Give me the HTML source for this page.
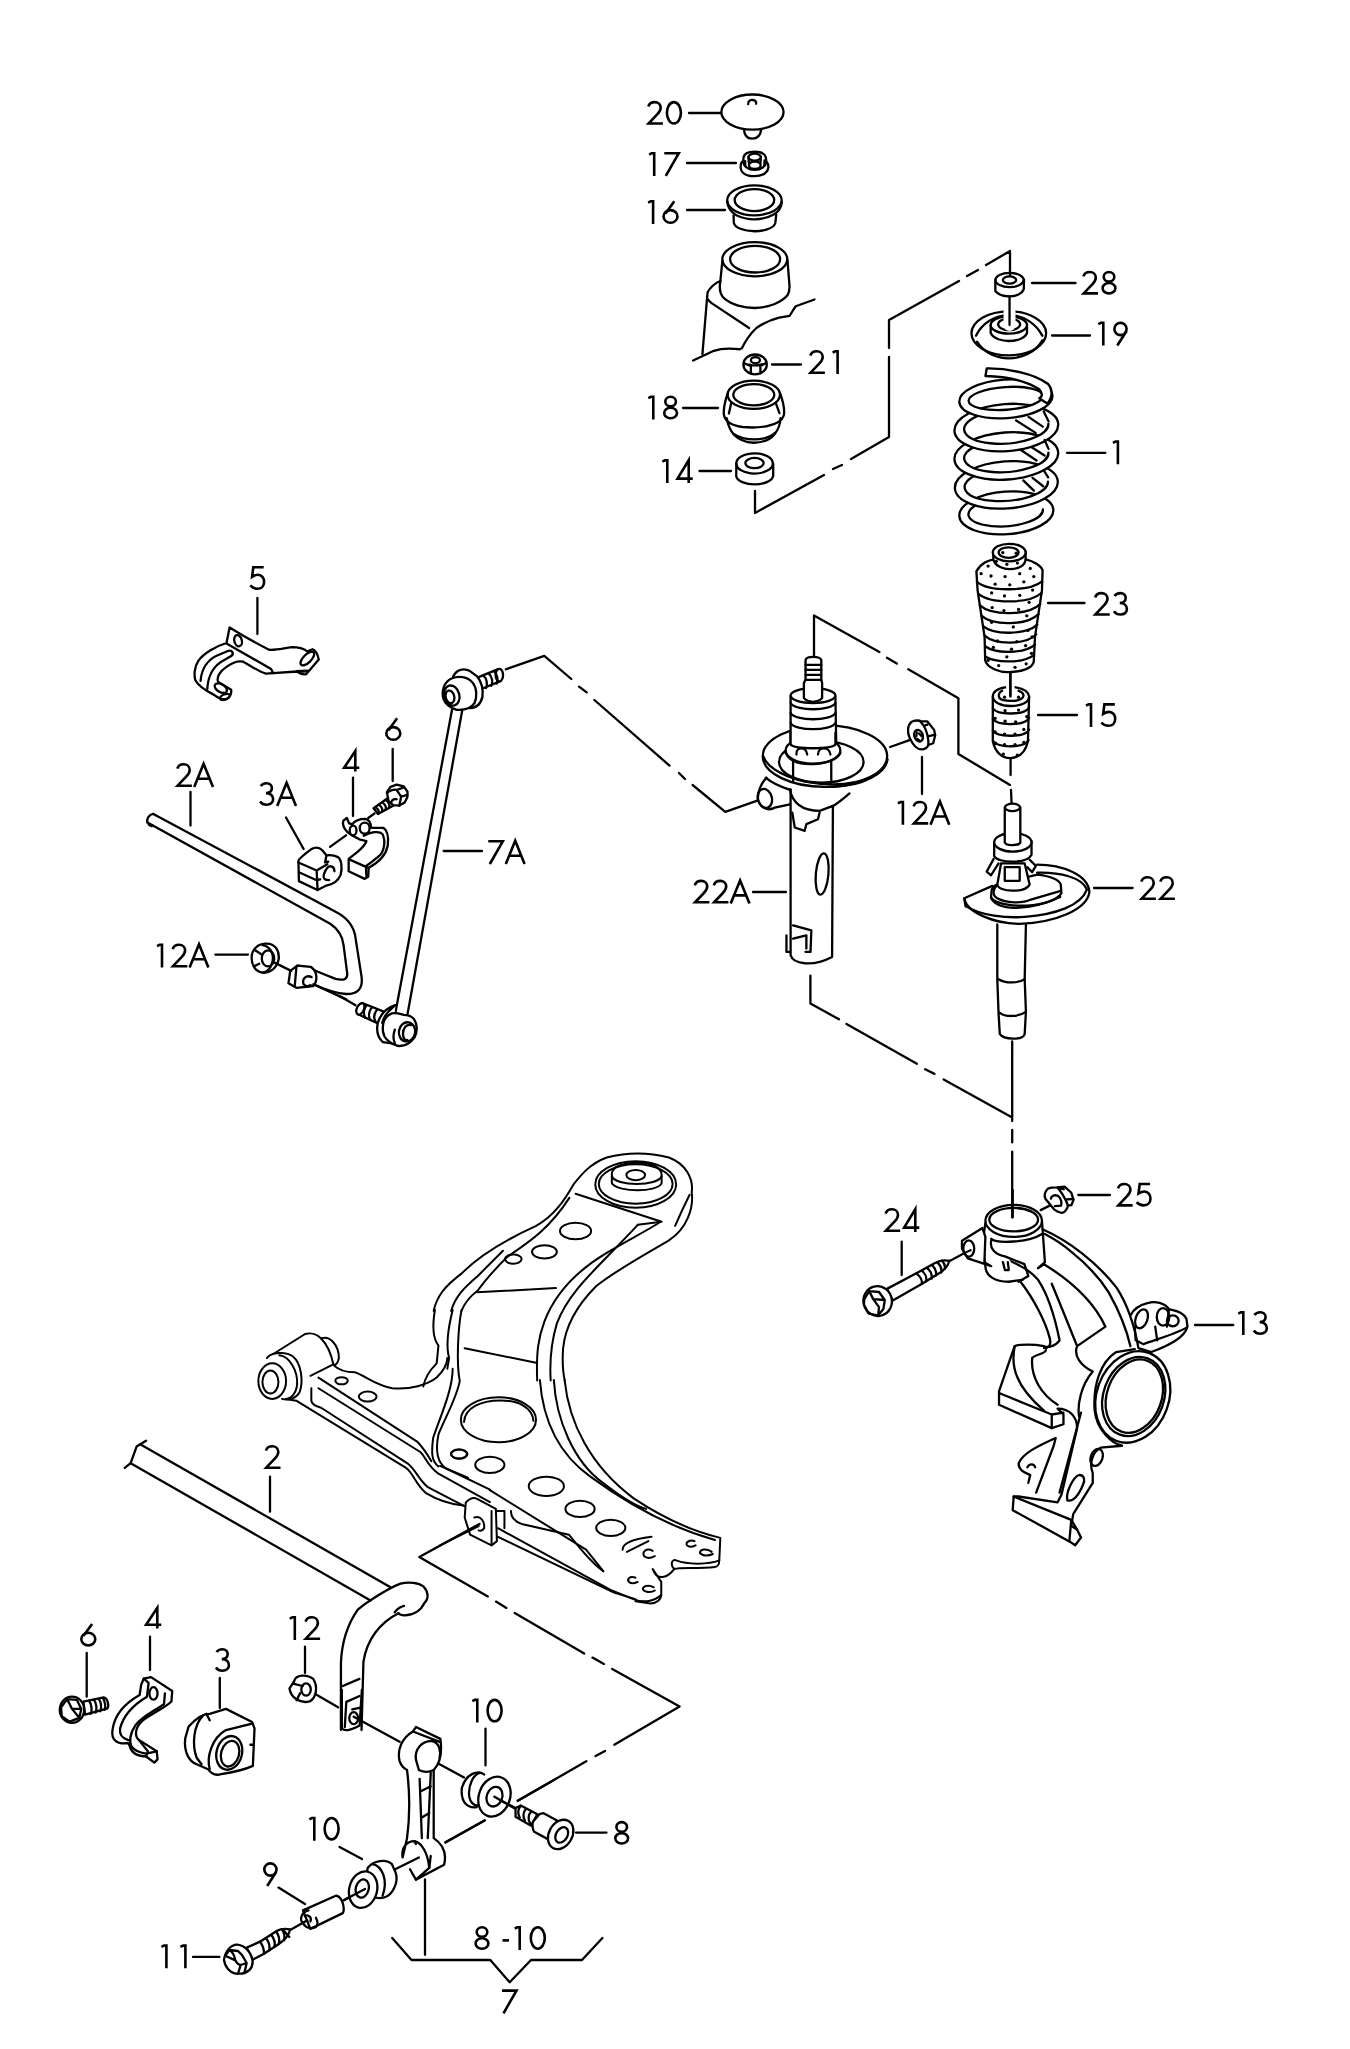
<!DOCTYPE html>
<html><head><meta charset="utf-8">
<style>
html,body{margin:0;padding:0;background:#fff;}
svg{display:block;}
text{font-family:"Liberation Sans",sans-serif;font-size:35px;fill:#000;}
.s{fill:none;stroke:#000;stroke-width:2.3;stroke-linecap:round;stroke-linejoin:round;}
.s *{vector-effect:non-scaling-stroke;}
.d{fill:none;stroke:#000;stroke-width:2.2;stroke-dasharray:80 9 12 9;}
.w{fill:#fff;}
</style></head><body>
<svg width="1350" height="2049" viewBox="0 0 1350 2049">
<!-- LABELS -->
<g fill="none" stroke="#000" stroke-width="2.6" stroke-linecap="butt" stroke-linejoin="miter">
<g transform="translate(645.40 124.8)"><path d="M2.9 -18.3 C4 -21.8 6.5 -22.7 9.3 -22.7 C12.8 -22.7 15.3 -20.3 15.3 -17 C15.3 -14.5 13.9 -12.6 12 -10.6 L3.2 -1.3 L17.5 -1.3"/></g><g transform="translate(664.40 124.8)"><ellipse cx="9.5" cy="-12" rx="7" ry="10.7"/></g>
<g transform="translate(643.00 175.9)"><path d="M6.2 -21.4 L8.8 -22.7 L11.2 -22.7 L11.2 0"/></g><g transform="translate(662.00 175.9)"><path d="M2.3 -22.7 L16.8 -22.7 L3.8 0"/></g>
<g transform="translate(641.90 224)"><path d="M6.2 -21.4 L8.8 -22.7 L11.2 -22.7 L11.2 0"/></g><g transform="translate(660.90 224)"><path d="M13.4 -22.8 L4.6 -10.6"/><ellipse cx="9.6" cy="-7.6" rx="7.0" ry="6.3"/></g>
<g transform="translate(807.40 374)"><path d="M2.9 -18.3 C4 -21.8 6.5 -22.7 9.3 -22.7 C12.8 -22.7 15.3 -20.3 15.3 -17 C15.3 -14.5 13.9 -12.6 12 -10.6 L3.2 -1.3 L17.5 -1.3"/></g><g transform="translate(826.40 374)"><path d="M6.2 -21.4 L8.8 -22.7 L11.2 -22.7 L11.2 0"/></g>
<g transform="translate(642.10 419.5)"><path d="M6.2 -21.4 L8.8 -22.7 L11.2 -22.7 L11.2 0"/></g><g transform="translate(661.10 419.5)"><ellipse cx="9.5" cy="-17.9" rx="5.3" ry="4.8"/><ellipse cx="9.5" cy="-6.5" rx="6.4" ry="5.2"/></g>
<g transform="translate(656.10 483)"><path d="M6.2 -21.4 L8.8 -22.7 L11.2 -22.7 L11.2 0"/></g><g transform="translate(675.10 483)"><path d="M13.6 0 L13.6 -22.8 L2.4 -4.4 L17.6 -4.4"/></g>
<g transform="translate(1080.50 294.7)"><path d="M2.9 -18.3 C4 -21.8 6.5 -22.7 9.3 -22.7 C12.8 -22.7 15.3 -20.3 15.3 -17 C15.3 -14.5 13.9 -12.6 12 -10.6 L3.2 -1.3 L17.5 -1.3"/></g><g transform="translate(1099.50 294.7)"><ellipse cx="9.5" cy="-17.9" rx="5.3" ry="4.8"/><ellipse cx="9.5" cy="-6.5" rx="6.4" ry="5.2"/></g>
<g transform="translate(1092.10 345.5)"><path d="M6.2 -21.4 L8.8 -22.7 L11.2 -22.7 L11.2 0"/></g><g transform="translate(1111.10 345.5)"><circle cx="9.4" cy="-16.5" r="6.1"/><path d="M15.3 -14.2 L6.2 0"/></g>
<g transform="translate(1106.70 464.2)"><path d="M6.2 -21.4 L8.8 -22.7 L11.2 -22.7 L11.2 0"/></g>
<g transform="translate(247.70 590)"><path d="M16 -22.7 L5.6 -22.7 L4.4 -13.2 C6.6 -14.6 8.6 -15.2 10.3 -15.2 C14 -15.2 16.4 -12.1 16.4 -8.1 C16.4 -3.7 13.5 -1.3 9.6 -1.3 C6.6 -1.3 4.3 -2.6 2.6 -4.6"/></g>
<g transform="translate(174.40 787)"><path d="M2.9 -18.3 C4 -21.8 6.5 -22.7 9.3 -22.7 C12.8 -22.7 15.3 -20.3 15.3 -17 C15.3 -14.5 13.9 -12.6 12 -10.6 L3.2 -1.3 L17.5 -1.3"/></g><g transform="translate(192.90 787)"><path d="M1.3 0 L10.7 -23.2 L20.1 0 M4.9 -8.2 L16.5 -8.2"/></g>
<g transform="translate(257.40 806)"><path d="M3.4 -19.8 C4.8 -22.2 7 -22.7 9.3 -22.7 C12.4 -22.7 14.5 -20.8 14.5 -17.9 C14.5 -15 12.2 -12.9 8.6 -12.9 C12.8 -12.9 15.7 -10.3 15.7 -6.7 C15.7 -3.2 13 -1.3 9.3 -1.3 C6.4 -1.3 4.2 -2.5 2.7 -4.6"/></g><g transform="translate(275.90 806)"><path d="M1.3 0 L10.7 -23.2 L20.1 0 M4.9 -8.2 L16.5 -8.2"/></g>
<g transform="translate(341.70 771.6)"><path d="M13.6 0 L13.6 -20.6 L2.4 -3.8 L17.6 -3.8"/></g>
<g transform="translate(383.70 741)"><path d="M13.4 -22.8 L4.6 -10.6"/><ellipse cx="9.6" cy="-7.6" rx="7.0" ry="6.3"/></g>
<g transform="translate(486.00 864)"><path d="M2.3 -22.7 L16.8 -22.7 L3.8 0"/></g><g transform="translate(504.50 864)"><path d="M1.3 0 L10.7 -23.2 L20.1 0 M4.9 -8.2 L16.5 -8.2"/></g>
<g transform="translate(150.80 967.5)"><path d="M6.2 -21.4 L8.8 -22.7 L11.2 -22.7 L11.2 0"/></g><g transform="translate(169.80 967.5)"><path d="M2.9 -18.3 C4 -21.8 6.5 -22.7 9.3 -22.7 C12.8 -22.7 15.3 -20.3 15.3 -17 C15.3 -14.5 13.9 -12.6 12 -10.6 L3.2 -1.3 L17.5 -1.3"/></g><g transform="translate(188.30 967.5)"><path d="M1.3 0 L10.7 -23.2 L20.1 0 M4.9 -8.2 L16.5 -8.2"/></g>
<g transform="translate(1092.20 615.8)"><path d="M2.9 -18.3 C4 -21.8 6.5 -22.7 9.3 -22.7 C12.8 -22.7 15.3 -20.3 15.3 -17 C15.3 -14.5 13.9 -12.6 12 -10.6 L3.2 -1.3 L17.5 -1.3"/></g><g transform="translate(1111.20 615.8)"><path d="M3.4 -19.8 C4.8 -22.2 7 -22.7 9.3 -22.7 C12.4 -22.7 14.5 -20.8 14.5 -17.9 C14.5 -15 12.2 -12.9 8.6 -12.9 C12.8 -12.9 15.7 -10.3 15.7 -6.7 C15.7 -3.2 13 -1.3 9.3 -1.3 C6.4 -1.3 4.2 -2.5 2.7 -4.6"/></g>
<g transform="translate(1079.80 727.1)"><path d="M6.2 -21.4 L8.8 -22.7 L11.2 -22.7 L11.2 0"/></g><g transform="translate(1098.80 727.1)"><path d="M16 -22.7 L5.6 -22.7 L4.4 -13.2 C6.6 -14.6 8.6 -15.2 10.3 -15.2 C14 -15.2 16.4 -12.1 16.4 -8.1 C16.4 -3.7 13.5 -1.3 9.6 -1.3 C6.6 -1.3 4.3 -2.6 2.6 -4.6"/></g>
<g transform="translate(1138.40 900)"><path d="M2.9 -18.3 C4 -21.8 6.5 -22.7 9.3 -22.7 C12.8 -22.7 15.3 -20.3 15.3 -17 C15.3 -14.5 13.9 -12.6 12 -10.6 L3.2 -1.3 L17.5 -1.3"/></g><g transform="translate(1157.40 900)"><path d="M2.9 -18.3 C4 -21.8 6.5 -22.7 9.3 -22.7 C12.8 -22.7 15.3 -20.3 15.3 -17 C15.3 -14.5 13.9 -12.6 12 -10.6 L3.2 -1.3 L17.5 -1.3"/></g>
<g transform="translate(691.90 903.6)"><path d="M2.9 -18.3 C4 -21.8 6.5 -22.7 9.3 -22.7 C12.8 -22.7 15.3 -20.3 15.3 -17 C15.3 -14.5 13.9 -12.6 12 -10.6 L3.2 -1.3 L17.5 -1.3"/></g><g transform="translate(710.90 903.6)"><path d="M2.9 -18.3 C4 -21.8 6.5 -22.7 9.3 -22.7 C12.8 -22.7 15.3 -20.3 15.3 -17 C15.3 -14.5 13.9 -12.6 12 -10.6 L3.2 -1.3 L17.5 -1.3"/></g><g transform="translate(729.40 903.6)"><path d="M1.3 0 L10.7 -23.2 L20.1 0 M4.9 -8.2 L16.5 -8.2"/></g>
<g transform="translate(891.70 824.7)"><path d="M6.2 -21.4 L8.8 -22.7 L11.2 -22.7 L11.2 0"/></g><g transform="translate(910.70 824.7)"><path d="M2.9 -18.3 C4 -21.8 6.5 -22.7 9.3 -22.7 C12.8 -22.7 15.3 -20.3 15.3 -17 C15.3 -14.5 13.9 -12.6 12 -10.6 L3.2 -1.3 L17.5 -1.3"/></g><g transform="translate(929.20 824.7)"><path d="M1.3 0 L10.7 -23.2 L20.1 0 M4.9 -8.2 L16.5 -8.2"/></g>
<g transform="translate(1115.10 1206.7)"><path d="M2.9 -18.3 C4 -21.8 6.5 -22.7 9.3 -22.7 C12.8 -22.7 15.3 -20.3 15.3 -17 C15.3 -14.5 13.9 -12.6 12 -10.6 L3.2 -1.3 L17.5 -1.3"/></g><g transform="translate(1134.10 1206.7)"><path d="M16 -22.7 L5.6 -22.7 L4.4 -13.2 C6.6 -14.6 8.6 -15.2 10.3 -15.2 C14 -15.2 16.4 -12.1 16.4 -8.1 C16.4 -3.7 13.5 -1.3 9.6 -1.3 C6.6 -1.3 4.3 -2.6 2.6 -4.6"/></g>
<g transform="translate(882.70 1232)"><path d="M2.9 -18.3 C4 -21.8 6.5 -22.7 9.3 -22.7 C12.8 -22.7 15.3 -20.3 15.3 -17 C15.3 -14.5 13.9 -12.6 12 -10.6 L3.2 -1.3 L17.5 -1.3"/></g><g transform="translate(901.70 1232)"><path d="M13.6 0 L13.6 -22.8 L2.4 -4.4 L17.6 -4.4"/></g>
<g transform="translate(1232.10 1335)"><path d="M6.2 -21.4 L8.8 -22.7 L11.2 -22.7 L11.2 0"/></g><g transform="translate(1251.10 1335)"><path d="M3.4 -19.8 C4.8 -22.2 7 -22.7 9.3 -22.7 C12.4 -22.7 14.5 -20.8 14.5 -17.9 C14.5 -15 12.2 -12.9 8.6 -12.9 C12.8 -12.9 15.7 -10.3 15.7 -6.7 C15.7 -3.2 13 -1.3 9.3 -1.3 C6.4 -1.3 4.2 -2.5 2.7 -4.6"/></g>
<g transform="translate(263.00 1469)"><path d="M2.9 -18.3 C4 -21.8 6.5 -22.7 9.3 -22.7 C12.8 -22.7 15.3 -20.3 15.3 -17 C15.3 -14.5 13.9 -12.6 12 -10.6 L3.2 -1.3 L17.5 -1.3"/></g>
<g transform="translate(78.70 1646.7)"><path d="M13.4 -22.8 L4.6 -10.6"/><ellipse cx="9.6" cy="-7.6" rx="7.0" ry="6.3"/></g>
<g transform="translate(143.70 1628.5)"><path d="M13.6 0 L13.6 -20.6 L2.4 -3.8 L17.6 -3.8"/></g>
<g transform="translate(213.20 1672)"><path d="M3.4 -19.8 C4.8 -22.2 7 -22.7 9.3 -22.7 C12.4 -22.7 14.5 -20.8 14.5 -17.9 C14.5 -15 12.2 -12.9 8.6 -12.9 C12.8 -12.9 15.7 -10.3 15.7 -6.7 C15.7 -3.2 13 -1.3 9.3 -1.3 C6.4 -1.3 4.2 -2.5 2.7 -4.6"/></g>
<g transform="translate(283.60 1640)"><path d="M6.2 -21.4 L8.8 -22.7 L11.2 -22.7 L11.2 0"/></g><g transform="translate(302.60 1640)"><path d="M2.9 -18.3 C4 -21.8 6.5 -22.7 9.3 -22.7 C12.8 -22.7 15.3 -20.3 15.3 -17 C15.3 -14.5 13.9 -12.6 12 -10.6 L3.2 -1.3 L17.5 -1.3"/></g>
<g transform="translate(466.10 1722.6)"><path d="M6.2 -21.4 L8.8 -22.7 L11.2 -22.7 L11.2 0"/></g><g transform="translate(485.10 1722.6)"><ellipse cx="9.5" cy="-12" rx="7" ry="10.7"/></g>
<g transform="translate(612.20 1844.8)"><ellipse cx="9.5" cy="-17.9" rx="5.3" ry="4.8"/><ellipse cx="9.5" cy="-6.5" rx="6.4" ry="5.2"/></g>
<g transform="translate(303.10 1840.7)"><path d="M6.2 -21.4 L8.8 -22.7 L11.2 -22.7 L11.2 0"/></g><g transform="translate(322.10 1840.7)"><ellipse cx="9.5" cy="-12" rx="7" ry="10.7"/></g>
<g transform="translate(261.00 1886)"><circle cx="9.4" cy="-16.5" r="6.1"/><path d="M15.3 -14.2 L6.2 0"/></g>
<g transform="translate(155.20 1968.3)"><path d="M6.2 -21.4 L8.8 -22.7 L11.2 -22.7 L11.2 0"/></g><g transform="translate(174.20 1968.3)"><path d="M6.2 -21.4 L8.8 -22.7 L11.2 -22.7 L11.2 0"/></g>
<g transform="translate(499.70 2013.3)"><path d="M2.3 -22.7 L16.8 -22.7 L3.8 0"/></g>
<g transform="translate(472.50 1950)"><ellipse cx="9.5" cy="-17.9" rx="5.3" ry="4.8"/><ellipse cx="9.5" cy="-6.5" rx="6.4" ry="5.2"/></g><g transform="translate(502.50 1950)"><path d="M0 -9.6 L6.5 -9.6"/></g><g transform="translate(508.50 1950)"><path d="M6.2 -21.4 L8.8 -22.7 L11.2 -22.7 L11.2 0"/></g><g transform="translate(528.30 1950)"><ellipse cx="9.5" cy="-12" rx="7" ry="10.7"/></g>
</g>
<!-- LEADERS -->
<g class="s">
<path d="M689 113H721M687 163H736M687 210H725M772 364.5H801M683 408H718M699.5 471H731"/>
<path d="M1032 283H1075.5M1052 335.5H1090M1067 452.8H1105.4"/>
<path d="M257.4 598V634M190.5 792V825.5M286 817.5L303.6 849M353 777.7V816M392.7 749V781M443.7 851H482M215.3 954.6H248"/>
<path d="M1048 603H1084.5M1038 715H1077M1094 888H1132.6M753 892H786M922 757V794"/>
<path d="M1078.3 1195H1110M901.7 1241.7V1275M1195 1325H1233.3"/>
<path d="M270 1476.7V1511.7M86.7 1653V1696.7M150 1636.7V1670M219.8 1678V1708M305 1646.7V1673"/>
<path d="M485.5 1728.7V1765.4M576 1832.6H606.5M339.6 1846.9L362 1859M278.5 1887.6L305 1904M193 1956.9H219.4"/>
<path d="M392.2 1938L411.5 1960H490.3L509.7 1982.3L531 1960H582L602.4 1938M425 1879.4V1954.8"/>
</g>

<!-- PARTS TOP: 20,17,16 -->
<g class="s" transform="translate(710,85) scale(0.07321)">
<ellipse cx="580" cy="370" rx="425" ry="240"/>
<path d="M465 612 C470 690 500 730 575 733 C650 730 690 690 698 612"/>
<path d="M522 262 C515 215 560 200 585 205 C620 210 635 230 630 255"/>
<path d="M607 1245 C480 1245 420 1190 418 1120 C418 1075 435 1050 455 1040 M760 1040 C785 1055 798 1080 798 1120 C795 1190 730 1245 607 1245"/>
<path d="M455 1040 L458 985 C470 935 530 912 610 912 C690 912 745 935 762 985 L770 1050 C760 1110 700 1160 610 1160 C520 1160 465 1110 455 1060 Z"/>
<ellipse cx="610" cy="985" rx="85" ry="48"/>
<ellipse cx="612" cy="1095" rx="80" ry="50"/>
<path d="M480 1040 L482 1110 M745 1030 L742 1105 M525 985 L530 1060 M695 985 L690 1060"/>
<ellipse cx="607" cy="1575" rx="372" ry="205"/>
<ellipse cx="607" cy="1572" rx="270" ry="150"/>
<path d="M235 1590 C240 1660 280 1730 360 1780 C440 1820 520 1835 607 1835 C700 1835 790 1815 870 1770 C940 1730 975 1670 982 1600"/>
<path d="M322 1780 L325 1880 C340 1950 460 1995 610 1998 C760 1995 880 1950 893 1880 L905 1770"/>
</g>

<!-- MOUNT -->
<g class="s" transform="translate(690,230) scale(0.1037)">
<ellipse cx="625" cy="282" rx="313" ry="165"/>
<ellipse cx="628" cy="282" rx="241" ry="128"/>
<path d="M312 300 L292 500 C282 560 285 620 330 660 C400 720 520 752 625 752 C760 750 880 700 940 630 C960 600 962 560 958 520 L940 290"/>
<path d="M292 492 C240 510 190 560 170 600 L165 650 L120 1195 M30 1258 L230 1165 C300 1140 400 1140 480 1150 L500 1140 C530 1080 560 1020 640 945 C720 890 800 860 860 845 L960 828 C980 800 1000 760 1020 735 L1200 670"/>
<path d="M170 665 C180 685 200 700 230 720 L570 945"/>
</g>
<!-- 21, 18, 14 -->
<g class="s" transform="translate(715,345) scale(0.07321)">
<ellipse cx="548" cy="265" rx="160" ry="135"/>
<ellipse cx="552" cy="208" rx="62" ry="42"/>
<path d="M470 265 C500 285 600 285 640 262 M490 290 L490 385 M620 290 L620 385 M410 255 L470 280 M690 250 L640 275"/>
<ellipse cx="530" cy="680" rx="358" ry="193"/>
<ellipse cx="530" cy="680" rx="280" ry="145"/>
<path d="M172 665 C140 760 115 860 120 940 C130 1040 230 1100 380 1120 C460 1128 600 1128 700 1110 C850 1080 945 1020 945 920 C945 840 920 740 890 660"/>
<path d="M160 1000 C175 1080 200 1160 260 1225 C320 1290 430 1330 530 1335 C650 1330 760 1290 815 1215 C870 1150 890 1080 895 1000"/>
<path d="M255 1215 C320 1260 430 1290 540 1290 C650 1290 750 1260 820 1200"/>
<path d="M190 935 L222 790 M880 930 L830 790"/>
<ellipse cx="540" cy="1618" rx="250" ry="138"/>
<ellipse cx="540" cy="1612" rx="125" ry="70"/>
<path d="M292 1625 L290 1790 C300 1860 420 1905 540 1905 C660 1905 780 1860 795 1790 L795 1625"/>
</g>
<!-- SPRING 1 -->
<g class="s" transform="translate(945,360) scale(0.08889)">
<path fill="#fff" stroke="none" fill-rule="evenodd" transform="rotate(-4 690 1720)" d="M160 1720 a530 240 0 1 0 1060 0 a530 240 0 1 0 -1060 0 Z M263 1710 a420 160 0 1 0 840 0 a420 160 0 1 0 -840 0 Z"/><ellipse transform="rotate(-4 690 1720)" cx="690" cy="1720" rx="530" ry="240"/><path transform="rotate(-4 690 1720)" d="M402.0 1591.1 A420 160 0 1 0 1103 1710"/>
<path fill="#fff" stroke="none" fill-rule="evenodd" transform="rotate(-4 690 1405)" d="M110 1405 a580 265 0 1 0 1160 0 a580 265 0 1 0 -1160 0 Z M220 1400 a470 185 0 1 0 940 0 a470 185 0 1 0 -940 0 Z"/><ellipse transform="rotate(-4 690 1405)" cx="690" cy="1405" rx="580" ry="265"/><path transform="rotate(-4 690 1405)" d="M375.5 1262.5 A470 185 0 1 0 1160 1400"/>
<path fill="#fff" stroke="none" fill-rule="evenodd" transform="rotate(-4 690 1080)" d="M105 1080 a585 265 0 1 0 1170 0 a585 265 0 1 0 -1170 0 Z M215 1075 a475 185 0 1 0 950 0 a475 185 0 1 0 -950 0 Z"/><ellipse transform="rotate(-4 690 1080)" cx="690" cy="1080" rx="585" ry="265"/><path transform="rotate(-4 690 1080)" d="M372.2 937.5 A475 185 0 1 0 1165 1075"/>
<path fill="#fff" stroke="none" fill-rule="evenodd" transform="rotate(-4 690 760)" d="M105 760 a585 265 0 1 0 1170 0 a585 265 0 1 0 -1170 0 Z M215 750 a475 190 0 1 0 950 0 a475 190 0 1 0 -950 0 Z"/><ellipse transform="rotate(-4 690 760)" cx="690" cy="760" rx="585" ry="265"/><path transform="rotate(-4 690 760)" d="M372.2 608.8 A475 190 0 1 0 1165 750"/>
<path fill="#fff" stroke="none" fill-rule="evenodd" transform="rotate(-4 685 437)" d="M160 437 a525 217 0 1 0 1050 0 a525 217 0 1 0 -1050 0 Z M265 432 a420 128 0 1 0 840 0 a420 128 0 1 0 -840 0 Z"/><ellipse transform="rotate(-4 685 437)" cx="685" cy="437" rx="525" ry="217"/><ellipse transform="rotate(-4 685 437)" cx="685" cy="432" rx="420" ry="128"/>
<path d="M800 680L1020 820M940 640L1100 750M1110 580L1165 690M850 1010L1030 1130M980 985L1120 1075M1120 900L1165 1000M880 1355L1000 1470M985 1325L1105 1420M1110 1240L1160 1320"/>
<path fill="#fff" d="M470 95 L455 180 C650 185 900 225 1060 330 C1100 370 1100 410 1060 430 L1150 490 C1210 420 1215 330 1160 270 C1000 150 700 92 470 95 Z"/>
</g>
<!-- 28, 19 -->
<g class="s" transform="translate(965,245) scale(0.06667)">
<path d="M455 525 L455 690 C500 750 600 770 668 770 C750 770 850 740 882 660 L885 520"/>
<ellipse cx="668" cy="525" rx="212" ry="108"/>
<ellipse cx="668" cy="525" rx="100" ry="55"/>
<ellipse cx="657" cy="1325" rx="560" ry="330"/>
<path d="M180 1450 C300 1640 500 1700 657 1700 C850 1700 1050 1620 1160 1430"/>
<path d="M165 1360 C250 1190 420 1070 657 1045 C880 1060 1060 1180 1160 1360"/>
<path fill="#fff" d="M385 1200 L385 1320 C430 1410 560 1440 657 1440 C780 1440 900 1400 930 1320 L930 1200 Z"/>
<ellipse cx="657" cy="1200" rx="272" ry="130" fill="#fff"/>
<ellipse cx="662" cy="1190" rx="165" ry="88"/>
<path d="M668 1000 L668 1200" stroke="#fff" stroke-width="12"/>
<path d="M668 770 L668 1200"/>
</g>

<!-- PART 5 -->
<g class="s" transform="translate(185,615) scale(0.1037)">
<path d="M430 120 L400 270 C300 300 180 370 130 440 C90 500 85 580 100 630 C130 690 200 730 280 770 C320 800 360 820 400 810 C440 790 450 760 445 720 L320 645 C300 600 340 540 400 500 C470 450 520 440 560 450 C620 480 700 540 780 565 L1080 545 C1100 560 1130 580 1170 570 L1290 430 C1280 380 1260 340 1230 330 L1180 350 C1140 320 1100 310 1030 310 C950 320 880 340 810 335 C700 280 560 200 430 120 Z"/>
<path d="M400 275 L830 520 L850 560"/>
<ellipse cx="512" cy="248" rx="36" ry="55" transform="rotate(-15 512 248)"/>
<path d="M150 635 C160 520 220 430 310 390 L420 345 C460 340 475 375 445 395 L350 450 C270 500 220 600 215 715"/>
<ellipse cx="345" cy="705" rx="65" ry="38" transform="rotate(30 345 705)"/>
<ellipse cx="385" cy="790" rx="50" ry="25" transform="rotate(-20 385 790)"/>
<ellipse cx="1180" cy="420" rx="85" ry="38" transform="rotate(-45 1180 420)"/>
<path d="M1080 545 L1180 540" stroke-width="3"/>
</g>
<!-- 3A, 4, 6 -->
<g class="s" transform="translate(290,770) scale(0.08889)">
<path d="M95 1020 C100 1000 200 920 240 890 C280 870 330 870 360 900 L410 960 C450 955 500 960 540 980 C580 1010 590 1100 570 1180 C540 1250 470 1290 410 1300 L310 1350 L100 1250 Z"/>
<path d="M95 1040 L300 1130 L420 1060 M300 1130 L310 1350 M100 1150 L300 1240 L340 1230"/>
<path d="M410 960 L395 1040 L430 1030"/>
<path d="M500 1140 C500 1080 450 1070 420 1100 C380 1150 370 1200 385 1220 C400 1240 430 1240 440 1240"/>
<path d="M450 865 L630 735 M880 540 L950 490"/>
<path d="M600 570 L640 540 L665 600 L700 610 C730 570 790 550 850 550 C890 560 910 600 912 650 L1050 650 C1100 680 1110 760 1100 850 C1080 950 1000 1040 885 1100 L880 1200 L840 1225 L660 1140 L660 1000 L760 920 C820 870 850 830 860 800 L780 780 L690 730 C640 700 600 660 595 600 Z" fill="#fff"/>
<path d="M665 1005 L855 1090 L860 1210 M855 1090 L885 1100"/>
<ellipse cx="710" cy="680" rx="38" ry="55"/>
<ellipse cx="840" cy="655" rx="55" ry="62"/>
<path d="M830 740 C900 700 1000 680 1040 720 C1080 800 1060 920 1000 970 C940 1020 890 1060 855 1080"/>
<path d="M940 430 L1110 310 L1165 400 L990 495 Z" fill="#fff"/>
<path d="M965 420 C990 440 1005 470 995 490 M1005 395 C1030 415 1045 445 1035 470 M1045 370 C1070 390 1085 420 1075 445 M1085 345 C1110 365 1125 395 1115 420"/>
<path d="M1090 250 L1130 190 L1200 165 L1280 185 L1322 245 L1320 305 L1290 365 L1230 400 L1160 395 L1110 350 Z" fill="#fff"/>
<path d="M1095 255 C1120 230 1170 215 1200 225 L1250 300 L1230 400 M1200 225 L1280 195 M1250 300 L1322 280 M1140 360 C1150 330 1180 320 1200 330"/>
</g>
<!-- BAR 2A + 12A nut -->
<g class="s" transform="translate(140,810) scale(0.17778)">
<path d="M75 22 L1100 572 C1165 605 1200 655 1210 705 L1245 930 C1258 1005 1225 1035 1160 1035 C1090 1030 1030 1005 975 980"/>
<path d="M42 70 L1070 640 C1115 670 1140 715 1145 760 L1165 915 C1170 950 1150 962 1100 950 L1000 910 C960 890 920 875 885 875"/>
<path d="M75 22 C50 25 35 50 42 70 C55 95 70 90 72 88"/>
<path d="M885 875 L960 882 C1000 910 1000 960 975 990 L880 1000 L835 975 L845 905 Z" fill="#fff"/>
<path d="M880 880 L870 995"/>
<path d="M965 940 C935 925 910 950 920 980 C930 995 950 990 960 985"/>
<path d="M760 860 L850 905 M975 980 L1160 1065"/>
<path d="M705 752 C760 748 785 790 780 840 C770 890 730 920 690 915 C650 910 625 870 628 825 C630 785 660 755 705 752 Z"/>
<path d="M690 760 C740 770 760 820 740 870 C730 900 710 912 690 915"/>
<ellipse cx="720" cy="835" rx="35" ry="45"/>
<path d="M650 790 L680 810 M640 880 L670 865"/>
</g>
<!-- LINK 7A -->
<g class="s">
<path d="M463 706 L407.6 1013.8 M453 704.5 L395.6 1011.8" />
</g>
<g class="s" transform="translate(430,640) scale(0.08889)">
<path d="M540 420 L760 330 L800 460 L590 545 Z" fill="#fff"/>
<ellipse cx="780" cy="395" rx="42" ry="70" fill="#fff"/>
<path d="M600 400 C640 430 650 500 630 540 M660 375 C700 410 710 480 690 515 M720 350 C760 390 770 450 750 490"/>

<path d="M260 410 C300 330 380 310 450 350 L530 410 C580 470 600 560 590 640 C570 720 520 765 450 765 L380 750 Z" fill="#fff"/>
<path d="M150 660 C130 580 150 470 250 430 C320 400 420 410 480 480 C530 540 530 650 500 710 C460 770 380 790 300 785 C220 760 170 720 150 660 Z" fill="#fff"/>
<ellipse cx="245" cy="625" rx="85" ry="115" transform="rotate(-15 245 625)"/>
<ellipse cx="225" cy="640" rx="48" ry="72" transform="rotate(-15 225 640)"/>
</g>
<g class="s" transform="translate(340,960) scale(0.07407)">
<path d="M0 490 L210 610"/>
<path d="M300 580 L600 700 L520 860 L260 740 Z" fill="#fff"/>
<ellipse cx="275" cy="660" rx="48" ry="82" transform="rotate(25 275 660)" fill="#fff"/>
<path d="M360 610 C320 650 310 720 340 780 M430 640 C390 690 380 760 410 810 M500 670 C460 720 450 780 480 830"/>
<path d="M745 610 C650 640 550 720 510 850 C490 950 510 1050 580 1110 L700 1125" fill="#fff"/>
<path d="M700 720 C600 760 570 860 580 960 C590 1060 680 1130 780 1160 C880 1170 960 1110 1010 1040 C1050 960 1040 860 1000 800 C960 750 900 740 860 740 C820 730 780 710 700 720 Z" fill="#fff"/>
<path d="M745 610 C700 650 600 720 570 850"/>
<ellipse cx="905" cy="970" rx="110" ry="130" transform="rotate(10 905 970)"/>
<path d="M960 880 C900 860 850 920 850 1000 C850 1060 880 1090 910 1080"/>
<path d="M740 940 C720 1000 710 1060 740 1120"/>
</g>

<!-- STRUT 22A + nut 12A -->
<g class="s" transform="translate(740,640) scale(0.16592)">
<path d="M905 645 L1030 600"/>
<path d="M155 830 C200 870 260 890 305 905 M660 925 C620 960 580 990 555 1005"/>
<path d="M305 900 L305 1900 C320 1950 430 1975 555 1910 L560 1000"/>
<ellipse cx="495" cy="1410" rx="38" ry="125" transform="rotate(5 495 1410)"/>
<path d="M320 1720 L430 1750 L425 1880 L395 1880 M320 1800 L400 1780 L400 1860 M280 1780 L280 1880 L300 1880"/>
<path d="M300 900 C320 1000 400 1030 480 1030 L560 1000 M315 1040 L330 1130 L390 1150 L400 1110 L470 1080 L480 1040"/>
<path d="M160 830 C130 860 100 920 110 970 C130 1020 180 1030 210 1010 L300 990"/>
<ellipse cx="150" cy="955" rx="42" ry="58" transform="rotate(-15 150 955)"/>
<path d="M145 660 C200 820 400 880 560 885 C750 880 880 800 888 720" fill="#fff"/>
<ellipse cx="512" cy="700" rx="375" ry="185" fill="#fff"/>
<path d="M140 700 C170 790 350 870 560 870 C760 870 880 790 888 720"/>
<ellipse cx="490" cy="735" rx="255" ry="125"/>
<path d="M320 720 L320 855 M550 720 L550 860"/>
<path d="M305 340 L305 630 L580 630 L575 340 Z" fill="#fff"/>
<ellipse cx="440" cy="665" rx="165" ry="80" fill="#fff"/>
<path d="M275 680 C300 740 380 750 440 748 C520 745 590 720 605 680"/>
<path d="M305 560 L305 630 C330 660 550 660 575 630 L575 560" fill="#fff"/>
<path d="M340 690 C335 640 400 640 405 690 M470 690 C470 640 540 640 545 690"/>
<ellipse cx="440" cy="335" rx="135" ry="45" fill="#fff"/>
<path d="M305 380 C330 430 550 430 575 380 M305 440 C330 490 550 490 575 440 M305 500 C330 550 550 550 575 500"/>
<path d="M385 350 L385 260 L395 240 L395 120 C400 95 480 95 490 120 L490 240 L495 260 L495 350 C470 380 410 380 385 350 Z" fill="#fff"/>
<path d="M395 150 L490 150 M395 180 L490 180 M395 210 L490 210 M395 240 L490 240"/>
</g>
<!-- BOOT 23 + BUMPER 15 -->
<g class="s" transform="translate(960,535) scale(0.11713)">
<path d="M430 1170 L430 1380 M432 1905 L432 2049"/>
<path d="M140 310 C180 240 250 210 300 208 L560 208 C620 220 690 260 705 300 L700 470 L640 870 L630 1080 C620 1140 520 1168 420 1170 C350 1175 230 1140 215 1070 L210 870 L150 470 Z" fill="#fff"/>
<path d="M145 400 C250 490 600 480 700 395 M155 500 C260 590 590 590 695 495 M170 600 C270 690 580 690 685 590 M185 690 C280 775 570 775 670 675 M200 780 C290 855 560 855 660 765 M210 860 C300 940 560 940 650 850 M215 950 C300 1015 550 1015 640 935 M220 1040 C310 1095 540 1095 630 1025"/>
<path d="M282 140 L285 210 C300 270 380 292 420 292 C500 292 560 262 560 200 L560 140" fill="#fff"/>
<ellipse cx="420" cy="150" rx="140" ry="75" fill="#fff"/>
<ellipse cx="415" cy="150" rx="85" ry="45"/>
<path d="M280 1380 L280 1760 C300 1850 350 1900 430 1905 C510 1900 560 1850 580 1760 L590 1380" fill="#fff"/>
<path d="M385 1300 C320 1310 280 1340 280 1380 C285 1430 350 1460 430 1460 C520 1460 590 1430 590 1380 C585 1340 540 1310 475 1300"/>
<path d="M360 1330 C320 1350 320 1400 370 1410 C420 1420 490 1420 520 1400 C560 1380 540 1340 500 1330"/>
<path d="M280 1480 C320 1540 560 1540 590 1470 M280 1570 C320 1630 560 1630 590 1560 M280 1670 C320 1730 560 1730 590 1660 M285 1760 C330 1820 550 1820 585 1750"/>
<path d="M430 1180 L430 1380" stroke="#000"/>
</g>
<!-- STRUT 22 -->
<g class="s" transform="translate(950,790) scale(0.12446)">
<path d="M490 0 L495 110"/>
<path d="M380 1080 L380 1520 L390 1790 L400 1960 C430 2010 590 2010 600 1960 L610 1780 L600 1520 L610 1080" fill="#fff"/>
<path d="M390 1520 C450 1560 560 1550 600 1520 M400 1790 C450 1830 560 1820 605 1785"/>
<path d="M340 770 L115 870 C130 980 350 1075 560 1075 C850 1065 1100 960 1120 820 C1110 680 900 600 700 600" fill="#fff"/>
<path d="M130 935 C250 1010 450 1030 600 1020 C850 1000 1050 930 1100 800 C1060 700 880 660 700 665"/>
<path d="M115 870 L125 935"/>
<path d="M700 680 C800 690 880 720 890 760 L895 830 C850 900 700 930 560 930 C420 925 340 890 330 860 L335 800 C350 770 380 760 380 760 Z" fill="#fff"/>
<path d="M330 870 C380 960 600 990 885 860"/>
<path d="M380 760 C340 800 340 850 380 870 C450 910 580 915 650 880 L890 810"/>
<path d="M410 590 L380 760 C390 820 600 830 640 760 L600 590 Z" fill="#fff"/>
<path d="M440 620 L440 730 L560 730 L560 620 Z"/>
<path d="M350 555 L295 655 L330 685 L390 590 M640 560 L690 610 L660 660 L620 620"/>
<path d="M355 430 L355 530 C380 590 620 595 655 520 L655 410" fill="#fff"/>
<ellipse cx="505" cy="420" rx="150" ry="75" fill="#fff"/>
<path d="M440 140 L440 420 C450 450 555 450 565 420 L565 140" fill="#fff"/>
<ellipse cx="502" cy="140" rx="60" ry="30" fill="#fff"/>
</g>
<g fill="#000" transform="translate(960,535) scale(0.11713)"><circle cx="240" cy="265" r="14"/><circle cx="180" cy="330" r="14"/><circle cx="265" cy="350" r="14"/><circle cx="385" cy="355" r="14"/><circle cx="510" cy="330" r="14"/><circle cx="600" cy="285" r="14"/><circle cx="630" cy="355" r="14"/><circle cx="300" cy="420" r="14"/><circle cx="425" cy="425" r="14"/><circle cx="545" cy="400" r="14"/><circle cx="270" cy="495" r="14"/><circle cx="380" cy="520" r="14"/><circle cx="510" cy="515" r="14"/><circle cx="620" cy="470" r="14"/><circle cx="275" cy="620" r="14"/><circle cx="375" cy="645" r="14"/><circle cx="500" cy="635" r="14"/><circle cx="590" cy="575" r="14"/><circle cx="270" cy="745" r="14"/><circle cx="455" cy="785" r="14"/><circle cx="570" cy="690" r="14"/><circle cx="580" cy="815" r="14"/><circle cx="320" cy="905" r="14"/><circle cx="485" cy="910" r="14"/><circle cx="615" cy="870" r="14"/><circle cx="285" cy="960" r="14"/><circle cx="440" cy="975" r="14"/><circle cx="560" cy="945" r="14"/><circle cx="400" cy="1040" r="14"/><circle cx="610" cy="1010" r="14"/><circle cx="240" cy="1070" r="14"/><circle cx="330" cy="1115" r="14"/><circle cx="470" cy="1130" r="14"/><circle cx="565" cy="1100" r="14"/><circle cx="365" cy="150" r="14"/><circle cx="480" cy="155" r="14"/><circle cx="310" cy="225" r="14"/><circle cx="400" cy="250" r="14"/><circle cx="490" cy="240" r="14"/><circle cx="380" cy="1385" r="14"/><circle cx="500" cy="1385" r="14"/><circle cx="385" cy="1500" r="14"/><circle cx="500" cy="1495" r="14"/><circle cx="300" cy="1565" r="14"/><circle cx="385" cy="1590" r="14"/><circle cx="475" cy="1595" r="14"/><circle cx="570" cy="1550" r="14"/><circle cx="300" cy="1680" r="14"/><circle cx="380" cy="1700" r="14"/><circle cx="470" cy="1700" r="14"/><circle cx="545" cy="1660" r="14"/><circle cx="305" cy="1780" r="14"/><circle cx="380" cy="1790" r="14"/><circle cx="470" cy="1790" r="14"/><circle cx="545" cy="1770" r="14"/><circle cx="370" cy="1870" r="14"/><circle cx="490" cy="1880" r="14"/></g>

<!-- KNUCKLE 13 -->
<g class="s" transform="translate(960,1190) scale(0.19522)">
<path d="M420 200 C560 262 700 370 802 500 C860 590 895 700 914 810 L980 830 C1060 800 1150 760 1165 700 L1160 660 C1140 620 1100 620 1070 610 C1050 580 1000 565 960 580 C920 590 890 610 875 640"/>
<path d="M435 225 C500 260 540 290 563 311 C650 380 715 450 761 523 C810 610 850 700 873 800"/>
<path d="M895 700 L900 770 L940 790 C990 770 1100 740 1160 705 M1000 700 L1010 770 M1070 610 L1060 700"/>
<ellipse cx="930" cy="660" rx="30" ry="50" transform="rotate(20 930 660)"/>
<ellipse cx="1040" cy="650" rx="32" ry="45"/>
<ellipse cx="1090" cy="670" rx="30" ry="28"/>
<path d="M160 340 C250 350 350 400 400 460 C440 520 480 620 510 770 C490 800 450 810 430 800 C380 790 300 790 280 800 L200 1030 L200 1100 L470 1220 L530 1200 L530 1150 L500 1120 C560 1120 600 1160 600 1220 L520 1560 L500 1600 L300 1570 L275 1570 L270 1640 L560 1800 L590 1820 L620 1780 L600 1740 L570 1720 L580 1660 L680 1500 L680 1450 C660 1400 680 1340 720 1320 L830 1310 C780 1300 700 1230 690 1130 C680 1000 720 880 800 830 L895 815"/>
<path d="M200 1040 L470 1150 L530 1140 M470 1150 L470 1220 M275 1570 L570 1690 L600 1740 M570 1690 L560 1800"/>
<path d="M280 800 C260 900 280 1000 430 1130 M370 860 C360 960 420 1050 500 1100 M370 860 C390 840 440 840 440 820"/>
<path d="M310 470 C380 560 440 680 460 760 C470 800 450 810 430 810"/>
<path d="M400 400 L430 380 C560 460 680 560 745 700 L600 800 C580 850 620 900 680 930 C620 1000 600 1100 610 1160 M600 800 C560 700 520 600 470 480"/>
<path d="M300 1400 C320 1350 400 1310 490 1270 L480 1310 L390 1550 M300 1400 C300 1440 340 1450 360 1460 L350 1500 M345 1420 C355 1400 380 1400 385 1420"/>
<path d="M510 1550 L620 1140 M550 1590 C540 1550 580 1470 610 1460 C640 1460 640 1490 630 1510 C610 1560 580 1600 550 1590 Z"/>
<ellipse cx="700" cy="1370" rx="30" ry="45" transform="rotate(20 700 1370)"/>
<ellipse cx="885" cy="1060" rx="185" ry="240" transform="rotate(20 885 1060)" fill="#fff"/>
<ellipse cx="890" cy="1058" rx="155" ry="208" transform="rotate(20 890 1058)"/>
<ellipse cx="893" cy="1056" rx="140" ry="193" transform="rotate(20 893 1056)"/>
<path d="M130 170 L120 240 C120 300 120 340 130 390 C130 440 180 470 250 470 L320 460 M420 160 L435 370 L400 400" fill="#fff"/>
<path d="M10 260 L115 195 L130 240 L125 370 L160 390 L40 350 L10 300 Z" fill="#fff"/>
<ellipse cx="45" cy="300" rx="28" ry="42"/>
<path d="M160 250 C190 275 350 270 420 225"/>
<path d="M160 260 C150 300 180 330 230 340 L330 380 L350 440 L300 470 M220 370 L230 410 L250 410 L245 370"/>
<ellipse cx="275" cy="158" rx="145" ry="82" fill="#fff"/>
<ellipse cx="275" cy="152" rx="125" ry="60"/>
<path d="M270 0 L270 140"/>
</g>
<!-- NUT 12A center -->
<g class="s" transform="translate(895,705) scale(0.04444)">
<path d="M330 740 C270 620 280 460 370 380 C450 330 560 350 590 370 L730 370 L880 560 L905 680 L860 860 L750 900 C720 970 680 1000 600 1000 C520 1000 420 940 330 740 Z" fill="#fff"/>
<path d="M570 370 C650 450 730 600 750 800 L750 900 M650 470 L730 440 M760 700 L890 670"/>
<ellipse cx="530" cy="690" rx="95" ry="135" transform="rotate(-20 530 690)"/>
<path d="M490 610 L480 700 M540 640 L600 700 M500 760 L550 800"/>
</g>
<!-- NUT 25 -->
<g class="s" transform="translate(1030,1175) scale(0.04444)">
<path d="M240 790 L600 610"/>
<path d="M400 310 C330 380 310 480 350 540 L550 780 C620 830 700 870 760 840 C830 790 860 700 850 690 L930 680 L980 560 L930 400 L780 260 L620 280 C560 280 460 280 400 310 Z" fill="#fff"/>
<path d="M620 280 C680 350 750 450 800 560 C830 620 850 680 850 690 M660 300 L760 320 M820 550 L970 540"/>
<path d="M470 530 C480 460 560 440 630 470 C700 520 720 620 700 690 L560 700"/>
</g>
<!-- BOLT 24 -->
<g class="s" transform="translate(855,1180) scale(0.08889)">
<path d="M1060 910 C1100 900 1200 830 1300 790"/>
<path d="M360 1225 L690 1050 L900 935 C960 900 1010 900 1060 910 C1050 960 1020 1000 960 1040 L750 1170 L425 1355 Z" fill="#fff"/>
<path d="M690 1050 C730 1080 760 1130 750 1170 M750 1020 C790 1050 810 1100 800 1140 M810 990 C850 1020 870 1070 860 1110 M870 960 C900 990 920 1030 910 1075 M930 930 C960 960 980 1000 970 1040 M980 905 C1000 930 1020 960 1010 1000"/>
<ellipse cx="255" cy="1362" rx="160" ry="168" transform="rotate(-15 255 1362)" fill="#fff"/>
<path d="M105 1340 L160 1250 L270 1260 L335 1350 L320 1450 L260 1525 L150 1500 L100 1400 Z M160 1250 L205 1340 L270 1430 L260 1525 M205 1340 L335 1350"/>
</g>


<!-- CONTROL ARM upper -->
<g class="s" style="stroke-width:2" transform="translate(420,1145) scale(0.20741)">
<path d="M66 800 C80 730 120 680 200 620 C300 520 450 440 560 390 C650 340 700 260 740 190 C780 140 820 90 900 60 C1000 35 1100 35 1200 60 C1280 90 1320 160 1310 230 C1320 300 1290 400 1200 460 C1100 520 950 600 850 680 C750 780 700 880 690 980 C685 1050 690 1100 698 1135"/>
<path d="M150 800 C170 730 210 690 280 630 C330 580 370 540 400 510"/>

<path d="M200 800 C215 760 240 730 280 700 C330 630 380 580 420 540 C520 470 620 410 720 255"/>
<path d="M565 1135 C560 1000 570 930 600 850 C650 720 750 610 900 520 C1000 460 1100 410 1160 370"/>
<path d="M630 1135 C625 1050 630 960 660 860 C720 700 850 600 1050 385"/>
<path d="M750 235 L1165 370 L1050 385"/>
<path d="M275 710 L655 690 M215 980 L560 1050"/>
<path d="M1230 390 C1260 320 1290 260 1300 240"/>
<ellipse cx="1040" cy="190" rx="195" ry="112"/>
<ellipse cx="1040" cy="188" rx="178" ry="95"/>
<path d="M925 140 C925 100 990 85 1045 85 C1110 85 1165 105 1165 145 L1165 185 C1140 230 960 230 925 185 Z"/>
<path d="M925 150 C940 200 1150 200 1165 150"/>
<ellipse cx="1040" cy="145" rx="45" ry="25"/>
<ellipse cx="750" cy="415" rx="75" ry="40"/>
<ellipse cx="600" cy="515" rx="60" ry="32"/>
<ellipse cx="450" cy="550" rx="40" ry="22"/>
</g>
<!-- CONTROL ARM left -->
<g class="s" style="stroke-width:2" transform="translate(250,1310) scale(0.17778)">
<path d="M95 270 L310 135 C345 125 380 140 400 160 C450 140 500 200 500 270 C495 295 485 310 470 310 C500 340 540 350 590 350 C650 370 700 420 800 440 C900 450 1000 420 1050 380 C1100 330 1110 290 1110 270" fill="#fff"/>
<path d="M400 160 C440 200 460 260 470 310"/>
<path d="M1040 0 C1030 60 1020 150 1060 200 L1050 300 C1000 350 980 400 975 430"/>
<path d="M1140 0 C1120 80 1100 200 1120 270 L1110 330"/>
<path d="M1190 0 C1170 100 1160 300 1180 400 C1160 500 1100 600 1060 700 C1040 800 1060 860 1100 890 L1350 1010"/>
<path d="M1140 330 C1140 450 1070 600 1030 720 C1020 800 1020 850 1060 880"/>
<path d="M200 500 L260 510 L880 890 C920 920 930 980 990 1030 C1040 1060 1100 1090 1200 1100"/>
<path d="M340 370 L460 310 M385 380 L940 740 C970 770 990 800 1020 850"/>
<path d="M345 440 L345 512 C350 532 370 542 400 550 L890 866 C930 896 950 956 1000 996 L1230 1116"/>
<path d="M385 440 L960 800 C990 830 1000 880 1060 920 L1350 1080"/>
<path d="M100 265 C120 240 200 230 240 260 C290 300 300 400 280 460 C260 500 210 510 180 500" fill="#fff"/>
<ellipse cx="125" cy="400" rx="78" ry="100" fill="#fff"/>
<ellipse cx="115" cy="405" rx="45" ry="65"/>
<path d="M165 255 C220 260 270 340 265 420 C260 470 230 500 200 500"/>
<ellipse cx="515" cy="398" rx="35" ry="20"/>
<ellipse cx="662" cy="487" rx="50" ry="28"/>
<ellipse cx="1175" cy="810" rx="45" ry="25"/>
</g>
<!-- CONTROL ARM right -->
<g class="s" style="stroke-width:2" transform="translate(440,1380) scale(0.21481)">
<path d="M580 0 C600 200 700 400 900 550 C1050 650 1200 710 1305 735 L1300 840 C1250 860 1150 860 1100 840 C1080 830 1070 860 1090 880 C1060 920 1020 930 1000 900 L990 880 L1030 940 L1030 1000 C1000 1030 950 1040 900 1020 L800 980 L270 690"/>
<path d="M1300 840 C1300 860 1290 870 1280 870 C1200 880 1120 870 1090 880 M1030 1000 C1030 1020 1010 1040 980 1040 L910 1030"/>
<path d="M530 0 C540 180 620 380 760 480 C850 550 920 590 960 600"/>
<path d="M465 0 C480 200 560 350 700 450 C850 560 1050 680 1280 745"/>
<path d="M232 513 L680 790 L760 890"/>

<path d="M0 400 L130 455"/>

<path d="M270 730 L810 990 L910 1020"/>
<path d="M330 610 C330 640 350 660 380 670 L600 720 C650 780 700 850 760 890"/>
<ellipse cx="272" cy="185" rx="175" ry="105"/>
<path d="M112 195 C115 130 190 95 280 95 C370 95 430 130 435 190"/>
<ellipse cx="90" cy="345" rx="38" ry="22"/>
<ellipse cx="232" cy="395" rx="68" ry="38"/>
<ellipse cx="495" cy="495" rx="82" ry="45"/>
<ellipse cx="652" cy="600" rx="68" ry="38"/>
<ellipse cx="795" cy="688" rx="68" ry="38"/>
<path d="M850 790 C850 760 900 740 985 730 M870 800 L970 750 M990 795 C960 780 940 800 950 820 C960 830 980 830 1000 820"/>
<path d="M1185 750 C1160 740 1140 760 1150 770 C1160 780 1180 775 1190 770 M1265 800 C1240 780 1210 790 1210 805 C1220 820 1250 820 1270 810 M910 920 C880 910 870 930 880 940 C890 950 910 945 920 940 M995 965 C970 950 940 960 945 975 C955 990 985 990 1000 980"/>
<path d="M120 570 C140 550 160 545 175 555 L260 600 L265 750 L240 770 L140 720 L115 640 Z" fill="#fff"/>
<path d="M240 610 L240 760 M265 610 L300 610 L300 690"/>
<path d="M160 640 C190 630 210 660 205 690 C200 700 185 705 180 700"/>
<path d="M180 680 L0 770"/>
</g>

<!-- BOLT 6, CLAMP 4, BUSHING 3 (bottom) -->
<g class="s" transform="translate(50,1660) scale(0.16296)">
<path d="M205 255 L330 230 C355 235 365 285 350 298 L215 335 Z" fill="#fff"/>
<path d="M240 250 C255 270 260 310 250 330 M270 245 C285 265 290 300 280 322 M300 240 C315 260 318 295 308 315 M325 235 C340 255 342 290 335 305"/>
<ellipse cx="135" cy="305" rx="75" ry="80" fill="#fff"/>
<path d="M68 290 L105 240 L165 245 L192 300 L180 355 L120 378 L72 345 Z M105 240 L135 300 L180 355 M135 300 L192 300"/>
<path d="M560 150 L550 215 C470 260 400 330 385 420 C375 470 390 505 440 512 L480 510 L490 530 C500 570 540 590 590 592 L640 630 L660 610 L655 560 L545 490 C520 470 520 420 560 380 C600 340 700 300 745 255 L750 190 L620 105 L575 115 Z" fill="#fff"/>
<path d="M605 140 L595 225 C520 270 450 340 430 420 C425 460 440 480 480 492 M705 205 L700 270 C650 310 570 340 525 400 C490 450 485 500 500 530 C520 560 560 570 590 575 L655 560 M575 115 L605 140 M545 490 L600 560 L590 592"/>
<ellipse cx="635" cy="205" rx="25" ry="38"/>
<path d="M850 410 C900 350 950 330 980 330 L1080 300 L1240 380 L1255 420 L1245 650 C1200 670 1120 690 1050 700 C1020 710 990 700 970 670 L900 640 C850 620 820 560 830 480 Z" fill="#fff"/>
<path d="M980 670 C960 600 990 480 1080 430 L1240 390 M940 340 C880 400 870 520 900 600 L930 640 M960 330 L980 370 M1230 520 L1245 520"/>
<ellipse cx="1100" cy="570" rx="78" ry="105" transform="rotate(15 1100 570)"/>
<ellipse cx="1105" cy="575" rx="55" ry="80" transform="rotate(15 1105 575)"/>
</g>
<!-- BAR 2 + nut 12 -->
<g class="s" transform="translate(120,1430) scale(0.23704)">
<path d="M20 160 L45 140 L70 70 L110 45"/>
<path d="M85 60 L1143 664 M45 140 L1057 719"/>
<path d="M932 1266 L932 984 C935 900 960 820 1003 758 C1030 735 1050 722 1060 716 C1100 690 1150 660 1183 648 C1220 640 1260 645 1280 660 C1300 680 1305 710 1284 730 C1270 760 1240 782 1200 782 C1185 782 1175 776 1175 773"/>
<path d="M1159 769 C1170 755 1185 745 1198 742"/>
<path d="M1175 773 C1097 812 1042 883 1027 977 L1019 1266"/>
<path d="M940 1080 L1010 1050 M950 1170 L1015 1130"/>
<ellipse cx="990" cy="1210" rx="22" ry="30"/>
<path d="M800 1100 L920 1170"/>
<path d="M735 1060 C740 1030 790 1030 815 1050 C835 1080 830 1130 800 1145 C760 1155 720 1130 715 1090 Z" fill="#fff"/>
<ellipse cx="785" cy="1095" rx="20" ry="26"/>
<path d="M730 1070 L770 1080 M745 1140 L760 1110"/>
</g>
<!-- LINK 7 + bushings 10 top -->
<g class="s" transform="translate(330,1690) scale(0.14815)">
<path d="M80 0 L80 260 C100 280 150 270 200 240 L215 0" fill="#fff"/>
<path d="M110 80 L200 40 M110 80 L100 250 M150 130 L200 120"/>
<ellipse cx="160" cy="190" rx="30" ry="40"/>
<path d="M160 180 L470 350 M665 460 L905 590 M1110 720 L1250 800 M780 1030 L1045 880 M440 1210 L600 1130"/>
<path d="M520 540 C540 700 540 850 520 1000 L490 1130 C480 1060 520 1020 570 1020 C620 1030 660 1100 670 1200 L580 1280 L770 1180 C790 1100 760 1040 700 1000 C700 850 700 700 700 540 C740 500 760 440 745 330 L580 250 L560 280 C490 320 450 400 470 480 C480 510 500 530 520 540 Z" fill="#fff"/>
<path d="M580 470 C570 400 620 340 690 345 C740 355 750 420 740 460 M600 540 C640 560 670 555 700 540 M580 470 L600 540 M560 280 L740 350"/>
<path d="M605 600 L620 1000 M680 560 L660 1000 M620 680 L680 650 M620 860 L670 830"/>
<path d="M570 1020 L580 1040 M540 1210 L580 1280 M670 1200 L680 1120"/>
<ellipse cx="1110" cy="720" rx="105" ry="138" transform="rotate(20 1110 720)" fill="#fff"/>
<ellipse cx="1110" cy="720" rx="52" ry="68" transform="rotate(20 1110 720)"/>
<path d="M1040 570 C1000 540 920 560 890 660 C880 760 930 800 990 790"/>
<path d="M1010 560 C970 570 930 640 940 720 C950 770 980 780 1000 780"/>
<path d="M1110 720 L1250 800"/>
</g>
<!-- bushing 10 lower, sleeve 9, bolt 11 -->
<g class="s" transform="translate(190,1840) scale(0.18519)">
<path d="M830 325 L945 265"/>






<path d="M610 380 L790 300 C830 310 835 380 825 395 L650 480 Z" fill="#fff"/>
<path d="M640 380 C600 390 590 430 610 450 C630 480 660 480 680 470 M620 410 C640 400 660 420 650 440 M680 420 C690 440 690 460 680 470"/>
<path d="M1110 175 C1130 230 1090 300 1050 310 C1010 320 960 310 940 250 L960 150 C990 110 1060 100 1090 130 Z" fill="#fff"/>
<path d="M985 130 C1040 140 1070 220 1040 300"/>
<ellipse cx="935" cy="268" rx="75" ry="100" transform="rotate(15 935 268)" fill="#fff"/>
<ellipse cx="930" cy="262" rx="35" ry="50" transform="rotate(15 930 262)"/>
<path d="M945 265 L830 325"/>
</g>
<!-- BOLT 11 -->
<g class="s" transform="translate(220,1915) scale(0.06667)">
<path d="M1060 220 L1310 80"/>
<path d="M400 490 L600 400 L850 240 C900 210 960 200 1050 215 C1040 280 1000 340 940 390 L860 450 L660 580 L490 670 Z" fill="#fff"/>
<path d="M600 400 C640 450 660 520 660 580 M690 350 C730 400 750 470 740 530 M770 300 C810 350 830 420 815 480 M845 255 C880 300 895 370 885 430 M930 220 C960 260 975 320 960 380 M940 215 L1040 330"/>
<path d="M60 670 C80 540 170 440 260 445 C380 460 470 560 490 700 C490 800 420 870 320 880 L230 880 C150 860 70 780 60 670 Z" fill="#fff"/>
<path d="M80 610 L140 525 L270 540 L330 600 L400 720 L370 850 M140 525 C200 560 220 620 230 680 C250 720 280 750 310 750 L400 720 M230 680 L80 610 M310 750 L270 880"/>
</g>
<!-- BOLT 8 -->
<g class="s" transform="translate(500,1780) scale(0.1037)">
<path d="M0 195 L150 270 M170 200 L520 0"/>
<path d="M150 270 L200 245 L360 330 L300 440 L150 355 Z" fill="#fff"/>
<path d="M200 250 C170 280 170 330 190 360 M250 280 C220 310 220 360 240 390 M300 305 C270 335 270 385 290 415"/>
<path d="M380 330 L420 320 L550 390 L470 575 L330 500 C310 470 310 420 320 400 Z" fill="#fff"/>
<ellipse cx="585" cy="525" rx="112" ry="150" transform="rotate(30 585 525)" fill="#fff"/>
<ellipse cx="595" cy="530" rx="55" ry="80" transform="rotate(30 595 530)"/>
</g>
<!-- DASHED -->
<g class="s">
<path d="M755 491V513L824 475M833 469L842 465M851 459L889 437V357M889 348V320L959 281M967 276L978 270M986 265L1010 251V275"/>
<path d="M505.8 669.3L544.3 655.9L571.3 679M579 686.7L586.7 692.4M594.4 700L669.5 765.6M679 773L685 779M692.6 785L725.3 811.9L758 800.3"/>
<path d="M814 655.9V615.4L879.4 652M887 657.8L896.8 663.6M908.3 669.3L958.4 698.2V754L1010 784.9"/>
<path d="M810.4 975.7V1003.5L839 1019.3M846.5 1023.9L916.9 1063.7M925.2 1069.3L934.4 1073.9M943.7 1079.4L1012.2 1117.4V1041.5M1012.2 1117.4V1121M1012.2 1130V1142.4M1012.2 1151.7V1217.4"/>
<path d="M479.5 1523.9L419.3 1557L487.8 1596.4M496 1601.6L506.4 1607.9M514.7 1613L584.2 1653.5M592.5 1657.6L603.9 1663.9M612.2 1669L679.6 1706.4L614.3 1744.7M605 1751L595.6 1756.1M586.3 1761.3L517.9 1800.7M484.7 1820.4L445.3 1842.2"/>
</g>
</svg>
</body></html>
